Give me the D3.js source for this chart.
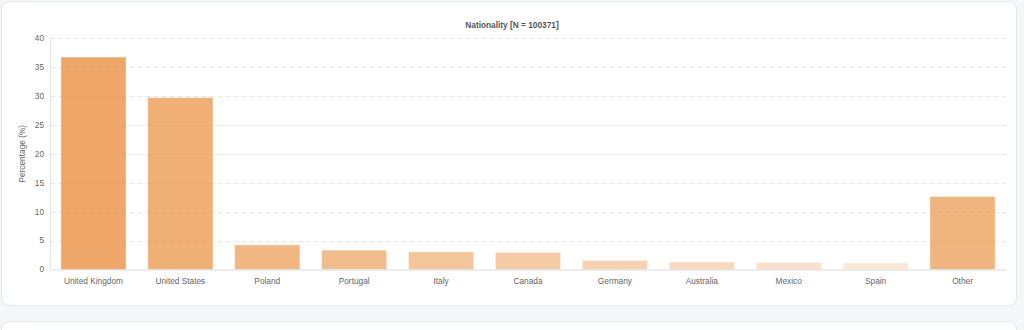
<!DOCTYPE html>
<html>
<head>
<meta charset="utf-8">
<script src="https://cdn.jsdelivr.net/npm/d3@7"></script>
<style>
	body { margin: 0; background: #f4f7fa; font-family: "Liberation Sans", Arial, sans-serif; }
	.card { position: absolute; left: 1px; width: 1014px; background: #fff; border: 1px solid #e2e8ee; border-radius: 8px; }
</style>
</head>
<body>
<div class="card" style="top:1px;height:303px;"></div>
<div class="card" style="top:321px;height:60px;"></div>
<script>
var countries = ['United Kingdom', 'United States', 'Poland', 'Portugal', 'Italy', 'Canada',
	'Germany', 'Australia', 'Mexico', 'Spain', 'Other'];
var percents = [36.7, 29.7, 4.25, 3.35, 3.05, 2.95, 1.55, 1.3, 1.22, 1.1, 12.6];
var yTicks = [0, 5, 10, 15, 20, 25, 30, 35, 40];

var chart = {
	width: 1024, height: 330,
	left: 50, right: 1006, top: 38, bottom: 269.5
};
var base = '#e67e22',
	grey = '#666',
	fontSize = 8.3;

var svg = d3.select('body').append('svg')
	.attr('width', chart.width)
	.attr('height', chart.height)
	.style('position', 'absolute')
	.style('left', 0)
	.style('top', 0);

var x = d3.scaleBand()
	.domain(countries)
	.range([chart.left, chart.right])
	.paddingInner(0.25)
	.paddingOuter(0.125);

var y = d3.scaleLinear()
	.domain([0, 40])
	.range([chart.bottom, chart.top]);

// dashed grid lines
svg.append('g')
	.selectAll('line')
	.data(yTicks.slice(1))
	.enter().append('line')
	.attr('x1', chart.left)
	.attr('x2', chart.right)
	.attr('y1', function(d) { return Math.round(y(d)) + 0.5; })
	.attr('y2', function(d) { return Math.round(y(d)) + 0.5; })
	.attr('stroke', '#e6e6e6')
	.attr('stroke-dasharray', '5,3');

// left axis line
svg.append('line')
	.attr('x1', chart.left + 0.5).attr('x2', chart.left + 0.5)
	.attr('y1', chart.top).attr('y2', chart.bottom)
	.attr('stroke', '#e4e4e4');

// y tick labels
svg.append('g')
	.selectAll('text')
	.data(yTicks)
	.enter().append('text')
	.attr('x', chart.left - 6)
	.attr('y', function(d) { return y(d); })
	.attr('dy', '0.35em')
	.attr('text-anchor', 'end')
	.attr('font-size', fontSize)
	.attr('fill', grey)
	.text(function(d) { return d; });

// bars, fading with rank, "Other" kept strong
svg.append('g')
	.selectAll('rect')
	.data(countries)
	.enter().append('rect')
	.attr('x', function(d) { return x(d); })
	.attr('width', x.bandwidth())
	.attr('y', function(d, i) { return y(percents[i]); })
	.attr('height', function(d, i) { return y(0) - y(percents[i]); })
	.attr('fill', base)
	.attr('fill-opacity', function(d, i) {
		return d === 'Other' ? 0.58 : 0.68 - i * 0.055;
	})
	.attr('stroke', '#fff')
	.attr('stroke-opacity', 0.4)
	.attr('stroke-width', 1);

// bottom axis line
svg.append('line')
	.attr('x1', chart.left).attr('x2', chart.right)
	.attr('y1', chart.bottom + 0.5).attr('y2', chart.bottom + 0.5)
	.attr('stroke', '#d9d9d9');

// x labels
svg.append('g')
	.selectAll('text')
	.data(countries)
	.enter().append('text')
	.attr('x', function(d) { return x(d) + x.bandwidth() / 2; })
	.attr('y', 284)
	.attr('text-anchor', 'middle')
	.attr('font-size', fontSize)
	.attr('fill', grey)
	.text(function(d) { return d; });

// axis title
svg.append('text')
	.attr('transform', 'translate(25,' + (chart.top + chart.bottom) / 2 + ') rotate(-90)')
	.attr('text-anchor', 'middle')
	.attr('font-size', fontSize)
	.attr('fill', grey)
	.text('Percentage (%)');

// chart title
svg.append('text')
	.attr('x', 512)
	.attr('y', 28)
	.attr('text-anchor', 'middle')
	.attr('font-size', fontSize)
	.attr('font-weight', 'bold')
	.attr('fill', '#555')
	.text('Nationality [N = 100371]');
</script>
</body>
</html>
